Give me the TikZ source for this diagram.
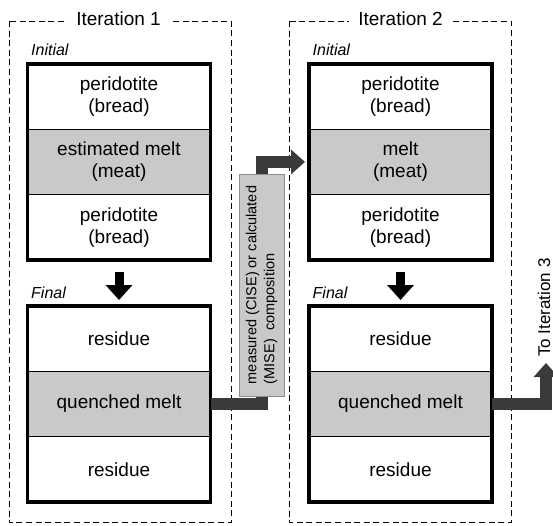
\documentclass[tikz,border=0pt]{standalone}
\usepackage{fontspec}
\setmainfont{Liberation Sans}
\usetikzlibrary{arrows.meta,positioning,calc}
\definecolor{meltgray}{HTML}{C9C9C9}
\definecolor{flowgray}{HTML}{3A3A3A}
\definecolor{tabgray}{HTML}{8C8C8C}

\begin{document}
\begin{tikzpicture}[
  x=1pt, y=1pt,
  every node/.style = {font=\fontsize{19}{22}\selectfont},
  slab/.style = {draw, line width=1pt, outer sep=0pt, minimum width=183pt, minimum height=65.3pt, align=center},
  bread/.style = {slab, fill=white},
  meat/.style = {slab, fill=meltgray},
  stackframe/.style = {draw, line width=3.5pt},
  iterbox/.style = {draw, line width=0.8pt, dash pattern=on 6pt off 3.6pt},
  itertitle/.style = {fill=white, inner xsep=9pt, inner ysep=2pt},
  stage/.style = {font=\fontsize{16}{19}\selectfont\itshape, inner sep=0pt},
  drop/.style = {line width=9pt, -{Triangle[width=26pt,length=15pt]}, shorten <=12pt, shorten >=6pt},
  flow/.style = {color=flowgray, line width=12pt, -{Triangle[width=24pt,length=14pt]}},
  measbox/.style = {rotate=90, draw=tabgray, fill=meltgray, minimum width=222pt, minimum height=45pt, align=left, font=\fontsize{14.5}{18}\selectfont},
  nextlbl/.style = {rotate=90, anchor=west, inner sep=0pt, font=\fontsize{17}{20}\selectfont}
]
\useasboundingbox (0,0) rectangle (553,525);

% iteration frames
\draw[iterbox] (9,504) rectangle (231,2.5);
\draw[iterbox] (289.3,504) rectangle (511,2.5);
\node[itertitle] (it1) at (118.5,506) {Iteration 1};
\node[itertitle] (it2) at (400.5,506) {Iteration 2};

% iteration 1
\node[bread] (ini1a) at (119,428.35) {peridotite\\(bread)};
\node[meat, below=0pt of ini1a] (ini1b) {estimated melt\\(meat)};
\node[bread, below=0pt of ini1b] (ini1c) {peridotite\\(bread)};
\draw[stackframe] (ini1a.north west) rectangle (ini1c.south east);
\node[stage, above right=8pt and 3.5pt of ini1a.north west] (ini1lbl) {Initial};

\node[bread] (fin1a) at (119,186.35) {residue};
\node[meat, below=0pt of fin1a] (fin1b) {quenched melt};
\node[bread, below=0pt of fin1b] (fin1c) {residue};
\draw[stackframe] (fin1a.north west) rectangle (fin1c.south east);
\node[stage, above right=7pt and 3.5pt of fin1a.north west] (fin1lbl) {Final};

\draw[drop] (ini1c.south) -- (fin1a.north);

% iteration 2
\node[bread] (ini2a) at (400.5,428.35) {peridotite\\(bread)};
\node[meat, below=0pt of ini2a] (ini2b) {melt\\(meat)};
\node[bread, below=0pt of ini2b] (ini2c) {peridotite\\(bread)};
\draw[stackframe] (ini2a.north west) rectangle (ini2c.south east);
\node[stage, above right=8pt and 3.5pt of ini2a.north west] (ini2lbl) {Initial};

\node[bread] (fin2a) at (400.5,186.35) {residue};
\node[meat, below=0pt of fin2a] (fin2b) {quenched melt};
\node[bread, below=0pt of fin2b] (fin2c) {residue};
\draw[stackframe] (fin2a.north west) rectangle (fin2c.south east);
\node[stage, above right=7pt and 3.5pt of fin2a.north west] (fin2lbl) {Final};

\draw[drop] (ini2c.south) -- (fin2a.north);

% melt carried over
\coordinate (bend1) at (262,240);
\draw[flow, shorten >=4pt] (fin1b.east) -| (bend1) |- (ini2b.west);
\node[measbox] (meas) at (261.5,240) {measured (CISE) or calculated\\(MISE)\ \ composition};

\coordinate (to3) at (546,162);
\draw[flow] (fin2b.east) -| (to3);
\node[nextlbl] (to3lbl) at ($(to3)+(-2,6)$) {To Iteration 3};

\end{tikzpicture}
\end{document}
